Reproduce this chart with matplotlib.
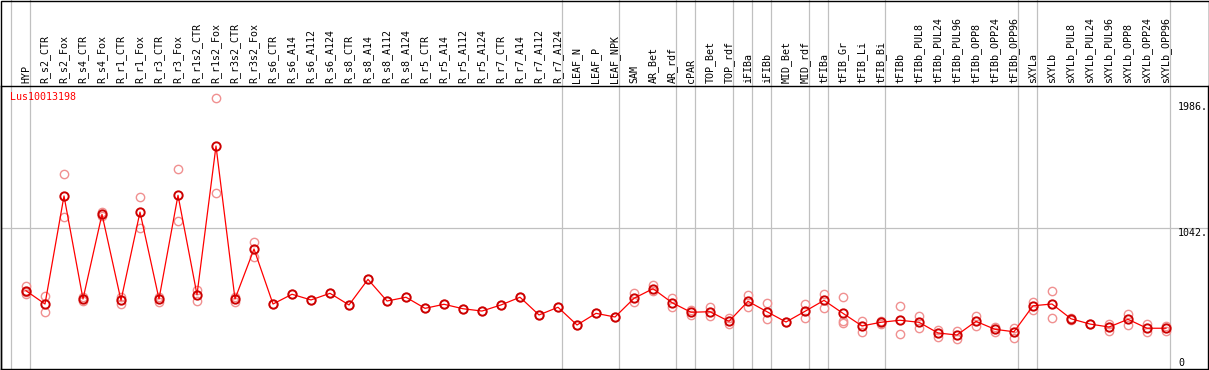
import matplotlib
matplotlib.use("Agg")
import matplotlib.pyplot as plt
from matplotlib.patches import Rectangle

# sample labels, left to right
samples = [
    "HYP", "R_s2_CTR", "R_s2_Fox", "R_s4_CTR", "R_s4_Fox", "R_r1_CTR", "R_r1_Fox",
    "R_r3_CTR", "R_r3_Fox", "R_r1s2_CTR", "R_r1s2_Fox", "R_r3s2_CTR", "R_r3s2_Fox",
    "R_s6_CTR", "R_s6_A14", "R_s6_A112", "R_s6_A124", "R_s8_CTR", "R_s8_A14",
    "R_s8_A112", "R_s8_A124", "R_r5_CTR", "R_r5_A14", "R_r5_A112", "R_r5_A124",
    "R_r7_CTR", "R_r7_A14", "R_r7_A112", "R_r7_A124", "LEAF_N", "LEAF_P", "LEAF_NPK",
    "SAM", "AR_Bet", "AR_rdf", "cPAR", "TOP_Bet", "TOP_rdf", "iFIBa", "iFIBb",
    "MID_Bet", "MID_rdf", "tFIBa", "tFIB_Gr", "tFIB_Li", "tFIB_Bi", "tFIBb",
    "tFIBb_PUL8", "tFIBb_PUL24", "tFIBb_PUL96", "tFIBb_OPP8", "tFIBb_OPP24",
    "tFIBb_OPP96", "sXYLa", "sXYLb", "sXYLb_PUL8", "sXYLb_PUL24", "sXYLb_PUL96",
    "sXYLb_OPP8", "sXYLb_OPP24", "sXYLb_OPP96",
]

# mean expression per sample
means = [
    578, 480, 1278, 517, 1142, 507, 1159, 517, 1283, 549, 1647, 517, 886,
    480, 552, 510, 559, 473, 662, 502, 530, 448, 478, 445, 428, 473, 530, 399, 456,
    325, 411, 384, 522, 593, 490, 419, 423, 352, 500, 423, 347, 426,
    507, 411, 318, 345, 360, 345, 266, 251, 352, 293, 275,
    467, 480, 371, 332, 310, 367, 301, 301,
]

# individual replicates per sample
replicates = [
    [612, 570, 552], [539, 419], [1438, 1120], [532, 502], [1162, 1130],
    [532, 480], [1268, 1043], [532, 495], [1475, 1091], [583, 502],
    [1999, 1297], [532, 495], [936, 829],
    [480], [552], [510], [559], [473], [662], [502], [530], [448], [478],
    [445], [428], [473], [530], [399], [456], [325], [411], [384],
    [563, 497], [620, 578], [527, 460], [436, 399], [460, 391], [377, 332],
    [546, 456], [485, 367], [347], [478, 374], [552, 453], [530, 357, 342],
    [357, 275], [355, 335], [463, 256], [391, 301], [290, 240], [281, 219],
    [391, 318], [310, 275], [305, 229], [497, 438], [574, 374], [379, 364],
    [332], [330, 283], [404, 325], [330, 273], [318, 283],
]

# last sample index of each group (gray separators)
group_ends = [-1, 0, 28, 31, 34, 35, 37, 38, 39, 41, 42, 45, 52, 53, 60]

gene = "Lus10013198"
tick_values = ["1986.", "1042.", "0"]

W, H = 1209, 370
top_px, bot_px = 86, 369
mono = "DejaVu Sans Mono"
fs = 7.2

fig = plt.figure(figsize=(W / 100, H / 100), dpi=100)
ax = fig.add_axes([1 / W, (H - bot_px) / H, 1207 / W, (bot_px - top_px) / H])

x = list(range(len(samples)))
ax.set_xlim(-25 / 19, 1182 / 19)
ax.set_ylim(0, 2090)

# separators, running up through the header
extra = 1 + top_px / (bot_px - top_px)
for g in group_ends:
    ax.axvline(g + 0.21, ymin=0, ymax=extra, color="#c0c0c0", lw=0.9,
               clip_on=False, zorder=1)
ax.axhline(1042, color="#c0c0c0", lw=0.9, zorder=1)

for i, reps in enumerate(replicates):
    ax.plot([i] * len(reps), reps, linestyle="none", marker="o", ms=6,
            mfc="none", mec="#f09090", mew=1.0, zorder=2)
ax.plot(x, means, color="red", lw=0.9, zorder=3)
ax.plot(x, means, linestyle="none", marker="o", ms=6, mfc="none",
        mec="#cc0000", mew=1.4, zorder=4)

for s in ax.spines.values():
    s.set_color("black")
    s.set_linewidth(1)
ax.set_xticks([])
ax.set_yticks([])

# rotated sample names in the header
for i, lab in enumerate(samples):
    ax.text(i, 1 + 3 / (bot_px - top_px), lab, transform=ax.get_xaxis_transform(),
            rotation=90, ha="center", va="bottom", fontsize=fs, family=mono,
            clip_on=False)

ax.text(10 / W, 1 - 97 / H, gene, transform=fig.transFigure, color="red",
        fontsize=fs, family=mono, va="center", ha="left")

for lab, ypx in zip(tick_values, [107, 233, 363]):
    fig.text(1178 / W, 1 - ypx / H, lab, fontsize=fs, family=mono,
             va="center", ha="left")

fig.add_artist(Rectangle((0.5 / W, 0.5 / H), (W - 1) / W, (H - 1) / H,
                         transform=fig.transFigure, fill=False,
                         edgecolor="black", lw=1))

fig.savefig("out.png", dpi=100)
